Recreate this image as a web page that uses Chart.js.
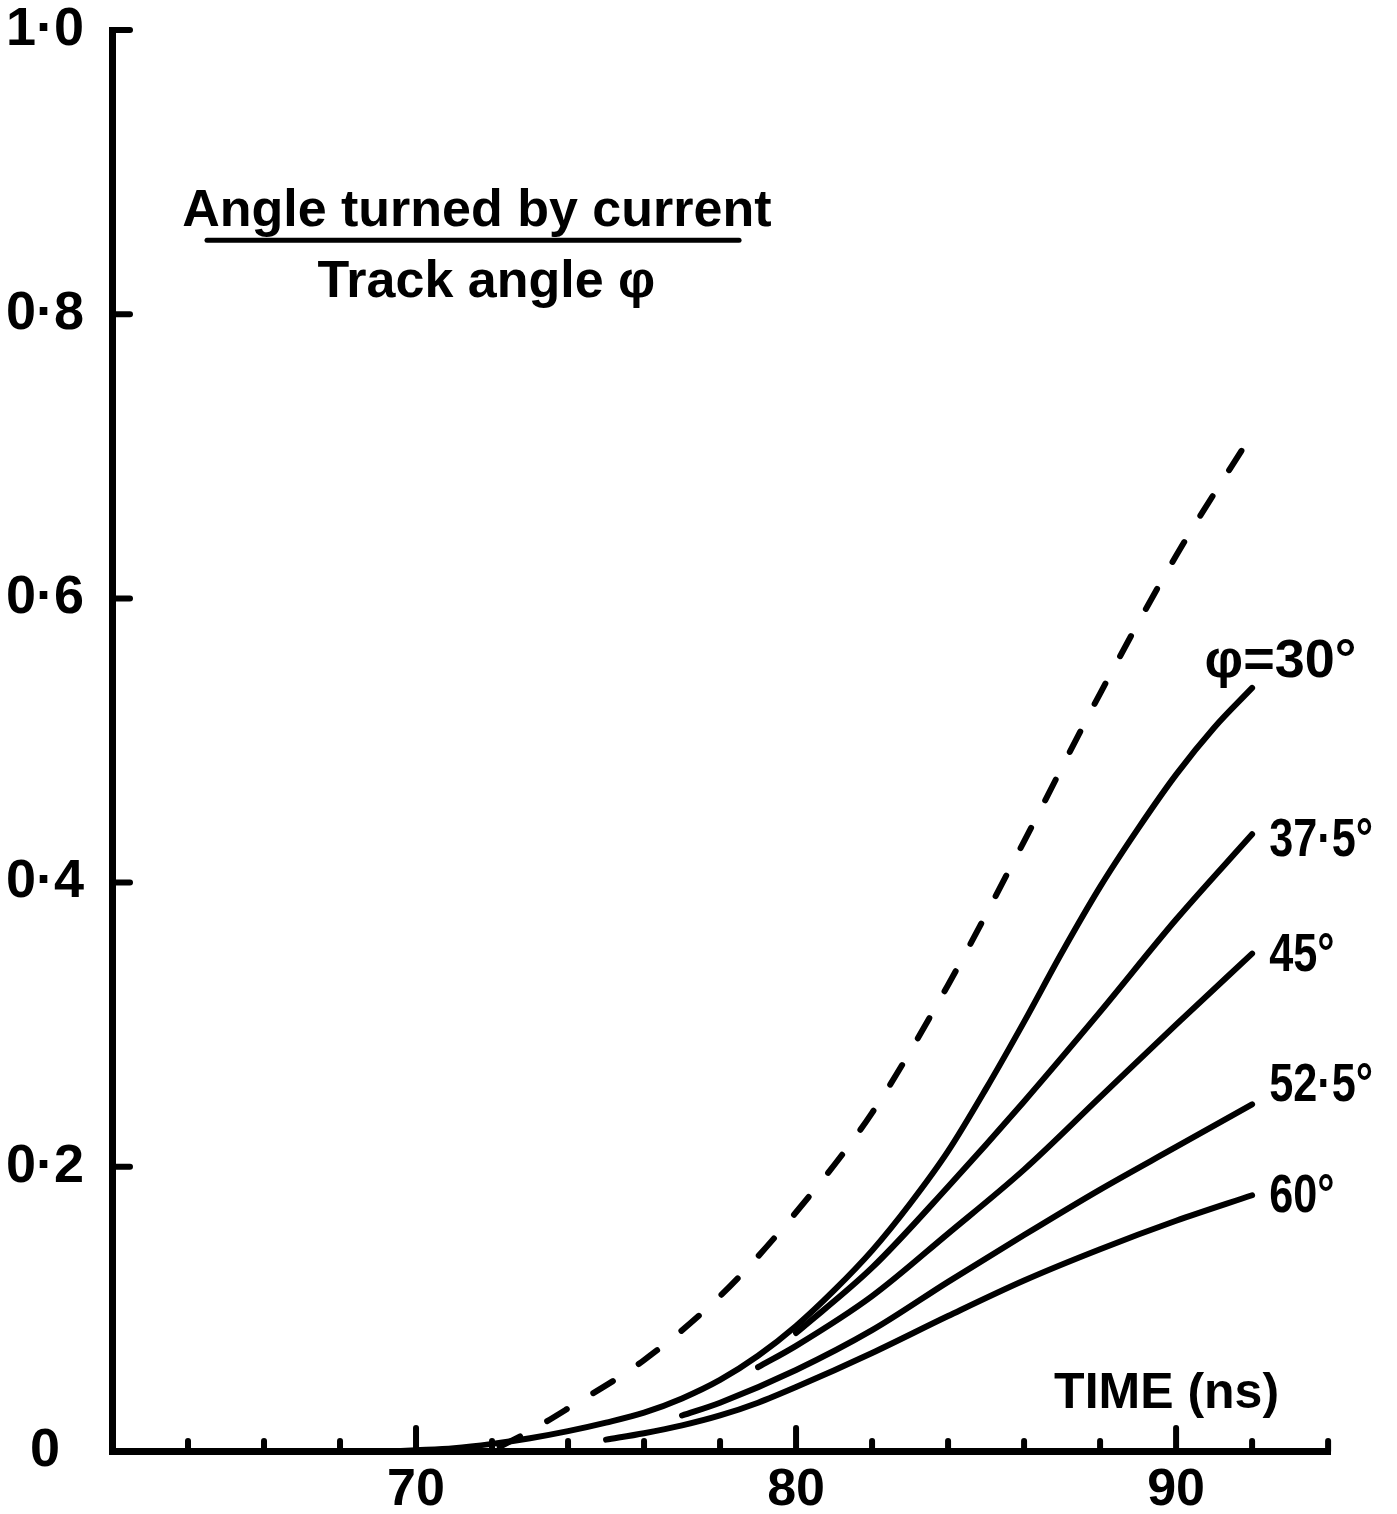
<!DOCTYPE html>
<html>
<head>
<meta charset="utf-8">
<script src="https://cdn.jsdelivr.net/npm/chart.js@4"></script>
<style>
html, body { margin: 0; padding: 0; background: #fff; }
#wrap { width: 1397px; height: 1514px; position: relative; }
</style>
</head>
<body>
<div id="wrap"><canvas id="chart"></canvas></div>
<script>
// axis ticks
const xTicks = [62, 64, 66, 68, 70, 72, 74, 76, 78, 80, 82, 84, 86, 88, 90, 92, 94];
const xLabelled = [70, 80, 90];
const yTicks = [0, 0.2, 0.4, 0.6, 0.8, 1.0];

// dashed reference curve
const tDashed = [72.2, 73, 74, 76, 78, 80, 82, 84, 86, 88, 90, 92.1];
const vDashed = [0.003, 0.014, 0.030, 0.064, 0.109, 0.168, 0.238, 0.328, 0.429, 0.533, 0.630, 0.720];

// track angle curves
const t30 = [69.6, 70, 71, 72, 73, 74, 75, 76, 77, 78, 79, 80, 81, 82, 83, 84, 85, 86, 87, 88, 89, 90, 91, 92];
const v30 = [0, 0.0005, 0.002, 0.005, 0.009, 0.014, 0.020, 0.027, 0.037, 0.050, 0.067, 0.088, 0.113, 0.141, 0.174, 0.211, 0.255, 0.302, 0.351, 0.397, 0.438, 0.476, 0.509, 0.537];
const t375 = [80, 82, 84, 86, 88, 90, 92];
const v375 = [0.083, 0.129, 0.186, 0.246, 0.309, 0.374, 0.434];
const t45 = [79, 80, 82, 84, 86, 88, 90, 92];
const v45 = [0.059, 0.074, 0.109, 0.153, 0.198, 0.249, 0.300, 0.350];
const t525 = [77, 78, 80, 82, 84, 86, 88, 90, 92];
const v525 = [0.025, 0.034, 0.057, 0.085, 0.119, 0.152, 0.184, 0.214, 0.244];
const t60 = [75, 76, 77, 78, 79, 80, 82, 84, 86, 88, 90, 92];
const v60 = [0.008, 0.0125, 0.018, 0.025, 0.034, 0.045, 0.069, 0.095, 0.120, 0.142, 0.162, 0.180];

const curveLabels = ['φ=30°', '37·5°', '45°', '52·5°', '60°'];

const pts = (t, v) => t.map((x, i) => ({ x: x, y: v[i] }));

function lineSet(t, v, dashed) {
    return {
        data: pts(t, v),
        borderColor: '#000',
        borderWidth: 6,
        borderCapStyle: 'round',
        borderJoinStyle: 'round',
        borderDash: dashed ? [23, 31] : [],
        pointRadius: 0,
        fill: false,
        cubicInterpolationMode: 'monotone'
    };
}

const textFont = '"Liberation Sans", Arial, sans-serif';

// inward tick marks and annotations
const marks = {
    id: 'marks',
    afterDraw(chart) {
        const { ctx, chartArea: area, scales: { x, y } } = chart;
        ctx.save();
        ctx.strokeStyle = '#000';
        ctx.fillStyle = '#000';
        ctx.lineCap = 'round';
        ctx.lineWidth = 6;
        x.ticks.forEach(t => {
            if (t.value === 62) return;
            const px = x.getPixelForValue(t.value);
            const len = xLabelled.includes(t.value) ? 23 : 10;
            ctx.beginPath();
            ctx.moveTo(px, area.bottom);
            ctx.lineTo(px, area.bottom - len);
            ctx.stroke();
        });
        y.ticks.forEach(t => {
            if (t.value === 0) return;
            const py = y.getPixelForValue(t.value);
            ctx.beginPath();
            ctx.moveTo(area.left, py);
            ctx.lineTo(area.left + 18, py);
            ctx.stroke();
        });

        // fraction title
        ctx.font = 'bold 52px ' + textFont;
        ctx.textAlign = 'center';
        ctx.textBaseline = 'alphabetic';
        ctx.fillText('Angle turned by current', x.getPixelForValue(71.6), y.getPixelForValue(0.862));
        ctx.lineWidth = 5;
        ctx.beginPath();
        ctx.moveTo(x.getPixelForValue(64.5), y.getPixelForValue(0.852));
        ctx.lineTo(x.getPixelForValue(78.5), y.getPixelForValue(0.852));
        ctx.stroke();
        ctx.fillText('Track angle φ', x.getPixelForValue(71.85), y.getPixelForValue(0.812));

        ctx.font = 'bold 50px ' + textFont;
        ctx.textBaseline = 'middle';
        ctx.fillText('TIME (ns)', x.getPixelForValue(89.75), y.getPixelForValue(0.04));

        // curve labels
        ctx.font = 'bold 54px ' + textFont;
        ctx.textAlign = 'left';
        const anchors = [[90.75, 0.555], [92.45, 0.429], [92.45, 0.348], [92.45, 0.257], [92.45, 0.179]];
        curveLabels.forEach((s, i) => {
            ctx.save();
            ctx.translate(x.getPixelForValue(anchors[i][0]), y.getPixelForValue(anchors[i][1]));
            if (i > 0) ctx.scale(0.8, 1);
            ctx.fillText(s, 0, 0);
            ctx.restore();
        });
        ctx.restore();
    }
};

new Chart(document.getElementById('chart').getContext('2d'), {
    type: 'line',
    data: {
        datasets: [
            lineSet(tDashed, vDashed, true),
            lineSet(t30, v30),
            lineSet(t375, v375),
            lineSet(t45, v45),
            lineSet(t525, v525),
            lineSet(t60, v60)
        ]
    },
    options: {
        responsive: true,
        maintainAspectRatio: false,
        animation: false,
        layout: { padding: { left: 0, right: 67, top: 30, bottom: 0 } },
        plugins: { legend: { display: false }, tooltip: { enabled: false } },
        scales: {
            x: {
                type: 'linear',
                min: 62,
                max: 94.05,
                afterBuildTicks: s => { s.ticks = xTicks.map(v => ({ value: v })); },
                afterFit: s => { s.height = 63; s.paddingLeft = 0; s.paddingRight = 0; },
                grid: { display: false, drawTicks: false },
                border: { display: true, color: '#000', width: 7 },
                ticks: {
                    autoSkip: false,
                    maxRotation: 0,
                    padding: 14,
                    color: '#000',
                    font: { family: textFont, size: 52, weight: 'bold', lineHeight: 1 },
                    callback: v => xLabelled.includes(v) ? String(v) : ''
                }
            },
            y: {
                type: 'linear',
                min: 0,
                max: 1,
                afterBuildTicks: s => { s.ticks = yTicks.map(v => ({ value: v })); },
                afterFit: s => { s.width = 112; s.paddingTop = 20; s.paddingBottom = 20; },
                grid: { display: false, drawTicks: false },
                border: { display: true, color: '#000', width: 7 },
                ticks: {
                    crossAlign: 'center',
                    padding: 28,
                    color: '#000',
                    font: { family: textFont, size: 54, weight: 'bold', lineHeight: 1 },
                    callback: v => v === 0 ? '0' : v.toFixed(1).replace('.', '·')
                }
            }
        }
    },
    plugins: [marks]
});
</script>
</body>
</html>
